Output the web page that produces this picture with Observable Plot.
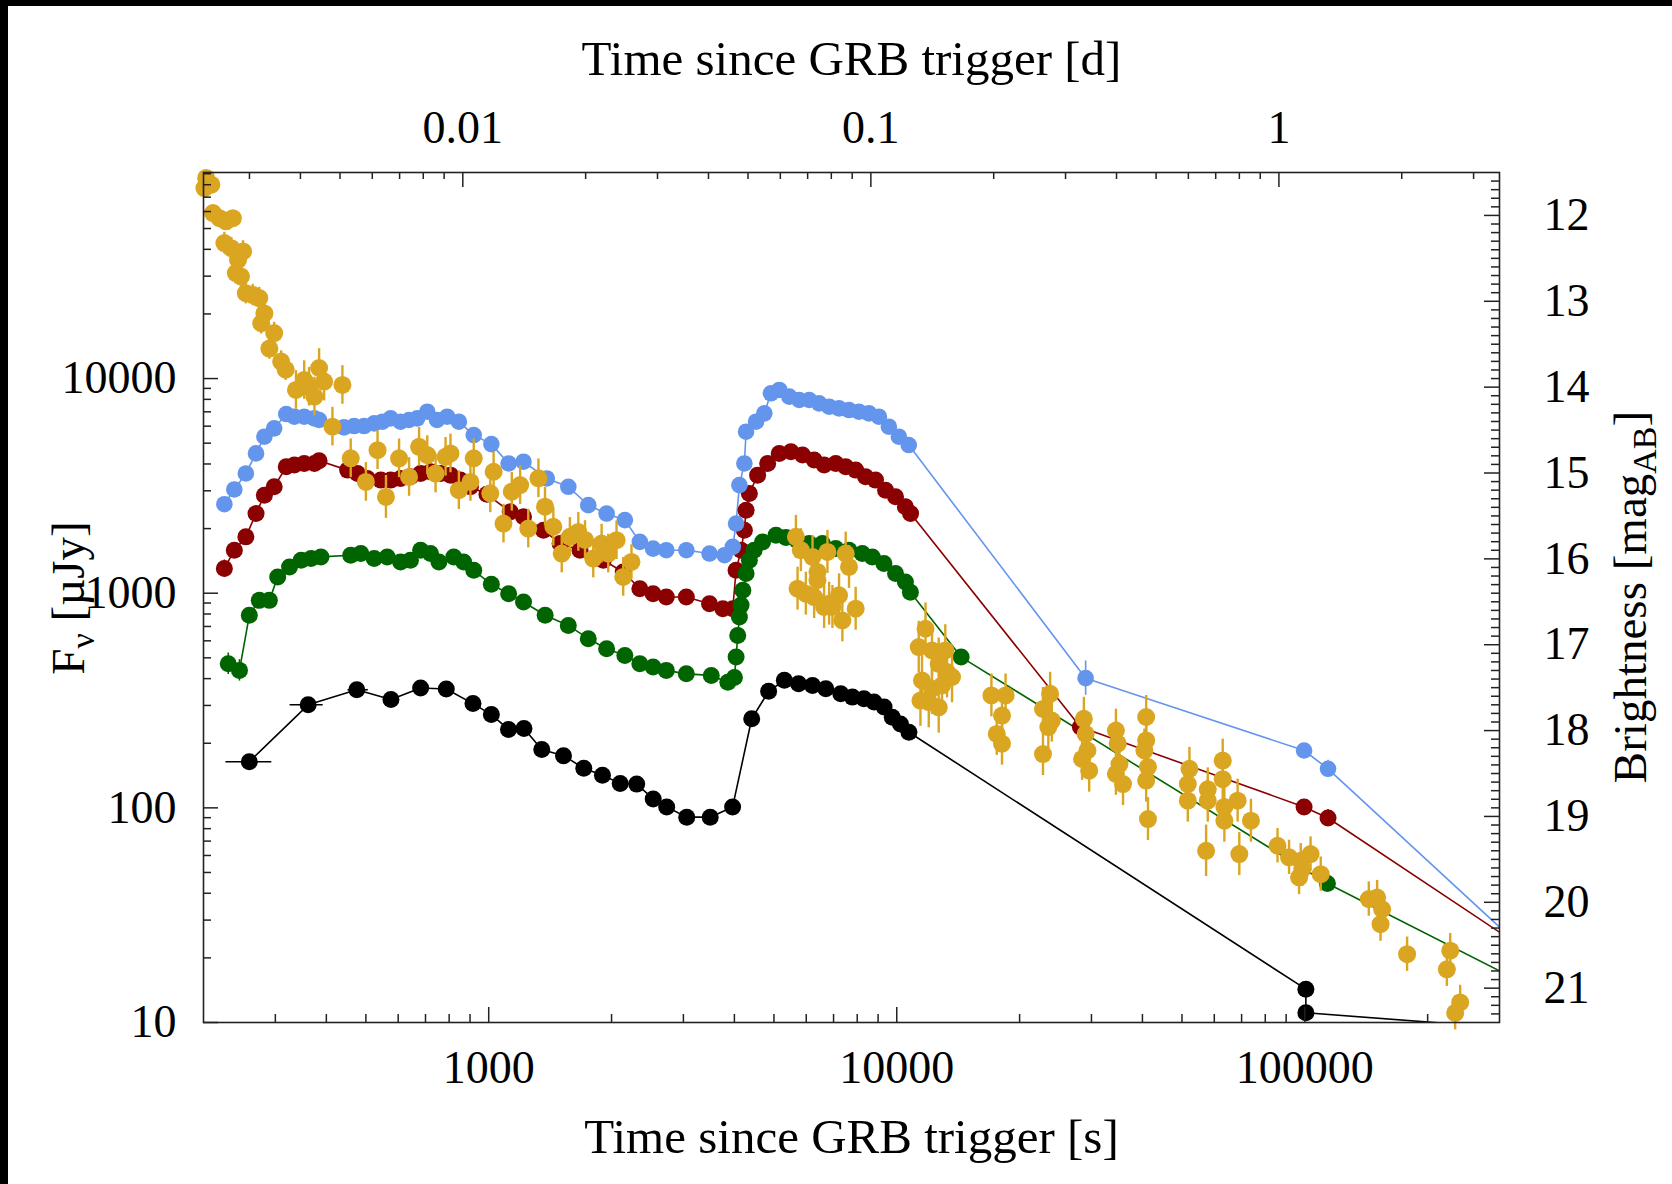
<!DOCTYPE html>
<html><head><meta charset="utf-8">
<script src="https://cdn.jsdelivr.net/npm/d3@7"></script>
<script src="https://cdn.jsdelivr.net/npm/@observablehq/plot@0.6"></script>
<style>
html,body{margin:0;padding:0;background:#fff;}
#wrap{position:relative;width:1672px;height:1184px;overflow:hidden;background:#fff;}
#chart{position:absolute;left:0;top:0;}
#bt{position:absolute;left:0;top:0;width:1672px;height:6px;background:#000;}
#bl{position:absolute;left:0;top:0;width:8px;height:1184px;background:#000;}
</style></head>
<body><div id="wrap"><div id="chart"></div><div id="bt"></div><div id="bl"></div></div>
<script>
// ---------- data (time since trigger [s], flux density [µJy]) ----------
const blackT = [259, 361, 475, 576, 681, 787, 915, 1015, 1118, 1220, 1349, 1525, 1710, 1900, 2100, 2305, 2530, 2730, 3057, 3490, 3960, 4411, 4853, 5303, 5745, 6217, 6700, 7290, 7785, 8310, 8795, 9310, 9750, 10210, 10710, 100600, 100600, 400000];
const blackF = [164, 302, 355, 320, 362, 358, 306, 272, 232, 234, 187, 175, 153, 142, 130, 129, 110, 101, 90.5, 90.5, 101, 260, 349, 393, 379, 372, 359, 340, 328, 322, 311, 295, 264, 246, 225, 14.3, 11.1, 9.1];
const blackXErrT = [259, 361, 475];
const blackXErrLo = [227, 326, 452];
const blackXErrHi = [294, 393, 507];

const blueT = [225, 238, 254, 269, 282, 298, 319, 334, 353, 374, 384, 442, 468, 495, 524, 549, 575, 608, 638, 668, 707, 747, 791, 845, 919, 1015, 1119, 1217, 1388, 1567, 1754, 1945, 2156, 2346, 2528, 2724, 3050, 3476, 3784, 3964, 4038, 4115, 4232, 4273, 4520, 4736, 4917, 5153, 5453, 5768, 6101, 6452, 6828, 7221, 7638, 8078, 8549, 9042, 9565, 10120, 10700, 29030, 99590, 114000, 400000];
const blueF = [2598, 3043, 3613, 4480, 5358, 5861, 6836, 6643, 6643, 6526, 6411, 5924, 6009, 6009, 6183, 6295, 6526, 6295, 6411, 6526, 7010, 6411, 6643, 6295, 5456, 4950, 4023, 4097, 3424, 3132, 2572, 2351, 2189, 1734, 1614, 1586, 1586, 1530, 1503, 1644, 2112, 3187, 4023, 5654, 6295, 6884, 8537, 8847, 8235, 7945, 7945, 7666, 7396, 7265, 7136, 7010, 6884, 6643, 5968, 5359, 4900, 402, 185, 152, 16.8];
const blueErrT = [29030, 114000];
const blueErrDex = [0.08, 0.04];

const redT = [225, 238, 254, 269, 282, 298, 319, 334, 353, 374, 384, 451, 477, 504, 544, 575, 608, 643, 681, 720, 762, 806, 852, 902, 990, 1129, 1217, 1362, 1496, 1674, 1909, 2136, 2346, 2528, 2724, 3050, 3476, 3748, 3964, 4038, 4154, 4232, 4273, 4353, 4561, 4827, 5152, 5504, 5875, 6274, 6637, 7087, 7497, 7930, 8386, 8871, 9387, 9931, 10500, 10810, 28180, 99590, 114000, 400000];
const redF = [1302, 1586, 1830, 2351, 2863, 3131, 3882, 3953, 4023, 4023, 4140, 3745, 3613, 3424, 3364, 3364, 3424, 3486, 3613, 3679, 3613, 3549, 3364, 3131, 2890, 2393, 2269, 1966, 1703, 1586, 1424, 1256, 1050, 995, 960, 960, 894, 847, 847, 1279, 1586, 1966, 2437, 2915, 3549, 4023, 4480, 4560, 4401, 4171, 3953, 4023, 3882, 3745, 3486, 3364, 3021, 2812, 2526, 2352, 238, 101, 89.7, 18.3];
const redErrT = [225, 114000];
const redErrDex = [0.04, 0.04];

const greenT = [230, 245, 259, 274, 290, 304, 325, 347, 367, 388, 459, 486, 524, 564, 608, 643, 681, 720, 755, 821, 868, 919, 1015, 1119, 1217, 1375, 1567, 1754, 1945, 2156, 2346, 2528, 2724, 3050, 3511, 3855, 4001, 4039, 4076, 4115, 4154, 4195, 4273, 4353, 4470, 4690, 5058, 5349, 5700, 6101, 6575, 7087, 7638, 8233, 8710, 9300, 9931, 10500, 10800, 14380, 113600, 400000];
const greenF = [469, 437, 789, 926, 926, 1190, 1326, 1424, 1450, 1476, 1503, 1530, 1450, 1476, 1398, 1424, 1586, 1530, 1398, 1476, 1398, 1279, 1100, 995, 910, 789, 708, 614, 551, 513, 469, 453, 437, 421, 414, 385, 405, 504, 636, 775, 880, 1031, 1234, 1424, 1586, 1734, 1863, 1820, 1760, 1703, 1703, 1614, 1586, 1530, 1476, 1374, 1234, 1128, 1010, 504, 44.4, 13.2];
const greenErrT = [230, 245];
const greenErrDex = [0.05, 0.05];

const goldT = [203, 209, 201, 211, 219, 227, 236, 225, 234, 250, 243, 240, 247, 254, 264, 274, 282, 277, 298, 290, 310, 318, 337, 353, 363, 374, 384, 395, 438, 414, 459, 500, 534, 560, 603, 638, 675, 707, 741, 784, 806, 845, 919, 902, 1028, 1009, 1087, 1139, 1194, 1250, 1324, 1374, 1440, 1510, 1581, 1658, 1722, 1804, 1891, 1963, 2057, 2136, 2238,
  5660, 5821, 6217, 6763, 7497, 7638, 6393, 5713, 5987, 6274, 6637, 6956, 7221, 7357, 7930, 6393, 6827,
  11760, 11320, 12200, 13150, 12670, 13280, 11530, 12200, 12910, 13660, 11980, 12670, 11430,
  17060, 18480, 18110, 17580, 18110, 22820, 23760, 23990, 23520, 22820, 28740, 29030, 29330, 28460, 29620, 34440, 34790, 35140, 34440, 35850, 40850, 40850, 40450, 41270, 40850, 41270,
  52150, 51670, 51670, 57830, 57830, 57290, 62920, 62920, 63510, 63510, 68450, 69100, 73780, 85730, 91500, 97720, 103300, 96820, 109400, 98630, 143500, 150400, 154700, 153300, 178100, 227200, 222900, 240300, 233600];
const goldF = [86000, 80000, 77200, 59000, 55900, 54000, 55900, 42800, 40500, 39100, 35700, 31000, 29900, 25000, 24500, 23700, 20100, 18100, 16300, 13800, 12000, 11000, 8850, 9840, 9160, 8240, 11200, 9680, 9340, 5970, 4250, 3300, 4640, 2810, 4250, 3480, 4810, 4400, 3610, 4320, 4480, 3020, 4250, 3300, 3680, 2920, 2110, 2970, 3190, 2000, 3430, 2530, 2040, 1530, 1830, 1930, 1770, 1450, 1703, 1530, 1766, 1191, 1399,
  1830, 1586, 1476, 1557, 1530, 1326, 1256, 1050, 995, 960, 863, 863, 978, 747, 847, 1149, 894,
  683, 561, 541, 541, 469, 429, 392, 359, 372, 407, 311, 294, 316,
  334, 334, 269, 221, 199, 289, 340, 255, 238, 178, 260, 221, 185, 169, 149, 229, 199, 160, 144, 129, 265, 206, 185, 155, 134, 88.7,
  152, 129, 108, 122, 108, 63.1, 166, 136, 101, 87.1, 108, 60.9, 87.1, 66.6, 58.8, 56.7, 60.9, 47.4, 49.1, 51.8, 37.6, 38.2, 33.7, 28.7, 20.8, 21.6, 17.7, 12.4, 11.1];
// half-length of the vertical error bars, in dex
const goldErrDex = [0.03, 0.03, 0.03, 0.03, 0.03, 0.03, 0.03, 0.05, 0.05, 0.05, 0.05, 0.05, 0.05, 0.05, 0.05, 0.05, 0.05, 0.05, 0.05, 0.05, 0.05, 0.05, 0.09, 0.09, 0.09, 0.09, 0.09, 0.09, 0.09, 0.09, 0.09, 0.09, 0.09, 0.1, 0.09, 0.09, 0.09, 0.09, 0.09, 0.09, 0.09, 0.09, 0.09, 0.09, 0.09, 0.09, 0.09, 0.09, 0.09, 0.09, 0.09, 0.09, 0.09, 0.09, 0.09, 0.09, 0.09, 0.09, 0.09, 0.09, 0.09, 0.09, 0.08,
  0.1, 0.1, 0.1, 0.1, 0.1, 0.1, 0.1, 0.1, 0.1, 0.1, 0.1, 0.1, 0.1, 0.1, 0.1, 0.1, 0.1,
  0.12, 0.12, 0.12, 0.12, 0.12, 0.12, 0.12, 0.12, 0.12, 0.12, 0.12, 0.12, 0.12,
  0.1, 0.1, 0.1, 0.1, 0.1, 0.1, 0.1, 0.1, 0.1, 0.1, 0.1, 0.1, 0.1, 0.1, 0.1, 0.1, 0.1, 0.1, 0.1, 0.1, 0.1, 0.1, 0.1, 0.1, 0.1, 0.1,
  0.1, 0.1, 0.1, 0.1, 0.1, 0.12, 0.1, 0.1, 0.1, 0.1, 0.1, 0.1, 0.1, 0.08, 0.08, 0.08, 0.08, 0.08, 0.08, 0.08, 0.08, 0.08, 0.08, 0.08, 0.08, 0.08, 0.08, 0.08, 0.08];

// ---------- axes ----------
const xMajor = [1000, 10000, 100000];
const yMajor = [10, 100, 1000, 10000];
const dayMajor = [0.01, 0.1, 1];
const magMajor = [12, 13, 14, 15, 16, 17, 18, 19, 20, 21];
const xTitle = "Time since GRB trigger [s]";
const topTitle = "Time since GRB trigger [d]";

const xDomain = [200, 300000];
const yDomain = [10, 91200];
const SEC_PER_DAY = 86400;
const magToF = m => Math.pow(10, (23.9 - m) / 2.5);

const colors = {black: "#000000", blue: "#6495ED", red: "#8B0000", green: "#006400", gold: "#DAA520"};

const W = 1672, H = 1184, mL = 203, mR = 173, mT = 172, mB = 162;
const innerW = W - mL - mR, innerH = H - mT - mB;

const rows = (T, F) => T.map((t, i) => ({t, f: F[i]}));
const inside = d => d.t >= xDomain[0] && d.t <= xDomain[1] && d.f >= yDomain[0] && d.f <= yDomain[1];
const black = rows(blackT, blackF), blue = rows(blueT, blueF), red = rows(redT, redF), green = rows(greenT, greenF);
const gold = goldT.map((t, i) => ({t, f: goldF[i], e: goldErrDex[i]}));
const errRows = (T, D, S) => T.map((t, i) => {const f = S[S.findIndex(d => d.t === t)].f; return {t, lo: f / 10 ** D[i], hi: f * 10 ** D[i]};});

const mult = [2, 3, 4, 5, 6, 7, 8, 9];
const xMinor = [100, 1000, 10000, 100000].flatMap(d => mult.map(m => m * d)).filter(v => v > xDomain[0] && v < xDomain[1]);
const topMinor = [0.001, 0.01, 0.1, 1].flatMap(d => mult.map(m => m * d * SEC_PER_DAY)).filter(v => v > xDomain[0] && v < xDomain[1]);
const yMinor = [10, 100, 1000, 10000].flatMap(d => mult.map(m => m * d)).filter(v => v > yDomain[0] && v < yDomain[1]);
const magMinor = d3.range(115, 215).filter(v => v % 10 !== 0).map(v => v / 10).map(magToF).filter(v => v > yDomain[0] && v < yDomain[1]);

const tickStroke = "#222";
const lineOpts = c => ({x: "t", y: "f", stroke: c, strokeWidth: 1.6, clip: true});
const dotOpts = (c, r) => ({x: "t", y: "f", fill: c, r, filter: inside});

const svg = Plot.plot({
  width: W, height: H,
  marginLeft: mL, marginRight: mR, marginTop: mT, marginBottom: mB,
  x: {type: "log", domain: xDomain, axis: null},
  y: {type: "log", domain: yDomain, axis: null},
  style: {fontFamily: "'Liberation Serif', 'DejaVu Serif', serif", fontSize: "46px", color: "#000", background: "transparent", overflow: "visible"},
  marks: [
    // lines
    Plot.line(black, lineOpts(colors.black)),
    Plot.line(red, lineOpts(colors.red)),
    Plot.line(green, lineOpts(colors.green)),
    Plot.line(blue, lineOpts(colors.blue)),
    // error bars of coloured series
    Plot.ruleY(blackXErrT.map((t, i) => ({t, f: black.find(d => d.t === t).f, lo: blackXErrLo[i], hi: blackXErrHi[i]})), {y: "f", x1: "lo", x2: "hi", stroke: colors.black, strokeWidth: 1.6}),
    Plot.ruleX(errRows(redErrT, redErrDex, red), {x: "t", y1: "lo", y2: "hi", stroke: colors.red, strokeWidth: 1.6}),
    Plot.ruleX(errRows(greenErrT, greenErrDex, green), {x: "t", y1: "lo", y2: "hi", stroke: colors.green, strokeWidth: 1.6}),
    Plot.ruleX(errRows(blueErrT, blueErrDex, blue), {x: "t", y1: "lo", y2: "hi", stroke: colors.blue, strokeWidth: 1.6}),
    // dots
    Plot.dot(black, dotOpts(colors.black, 8.5)),
    Plot.dot(red, dotOpts(colors.red, 8.5)),
    Plot.dot(green, dotOpts(colors.green, 8.5)),
    Plot.dot(blue, dotOpts(colors.blue, 8.3)),
    Plot.ruleX(gold, {x: "t", y1: d => d.f / 10 ** d.e, y2: d => d.f * 10 ** d.e, stroke: colors.gold, strokeWidth: 2.4, filter: inside}),
    Plot.dot(gold, dotOpts(colors.gold, 9)),
    // frame and inward ticks
    Plot.frame({stroke: tickStroke, strokeWidth: 1.6}),
    Plot.tickX(xMinor, {x: d => d, insetTop: innerH - 8, stroke: tickStroke, strokeWidth: 1.5}),
    Plot.tickX(xMajor, {x: d => d, insetTop: innerH - 15, stroke: tickStroke, strokeWidth: 1.5}),
    Plot.tickX(topMinor, {x: d => d, insetBottom: innerH - 7, stroke: tickStroke, strokeWidth: 1.5}),
    Plot.tickX(dayMajor, {x: d => d * SEC_PER_DAY, insetBottom: innerH - 15, stroke: tickStroke, strokeWidth: 1.5}),
    Plot.tickY(yMinor, {y: d => d, insetRight: innerW - 8, stroke: tickStroke, strokeWidth: 1.5}),
    Plot.tickY(yMajor, {y: d => d, insetRight: innerW - 15, stroke: tickStroke, strokeWidth: 1.5}),
    Plot.tickY(magMinor, {y: d => d, insetLeft: innerW - 8, stroke: tickStroke, strokeWidth: 1.5}),
    Plot.tickY(magMajor, {y: magToF, insetLeft: innerW - 15, stroke: tickStroke, strokeWidth: 1.5}),
    // tick labels
    Plot.text(xMajor, {x: d => d, text: d => String(d), frameAnchor: "bottom", dy: 46, lineAnchor: "middle", fill: "#000"}),
    Plot.text(dayMajor, {x: d => d * SEC_PER_DAY, text: d => String(d), frameAnchor: "top", dy: -44, lineAnchor: "middle", fill: "#000"}),
    Plot.text(yMajor, {y: d => d, text: d => String(d), frameAnchor: "left", dx: -27, textAnchor: "end", lineAnchor: "middle", fill: "#000"}),
    Plot.text(magMajor, {y: magToF, text: d => String(d), frameAnchor: "right", dx: 44, textAnchor: "start", lineAnchor: "middle", fill: "#000"}),
    // axis titles
    Plot.text([xTitle], {text: d => d, frameAnchor: "bottom", dy: 115, lineAnchor: "middle", fill: "#000", fontSize: 49}),
    Plot.text([topTitle], {text: d => d, frameAnchor: "top", dy: -113, lineAnchor: "middle", fill: "#000", fontSize: 49})
  ]
});
document.getElementById("chart").appendChild(svg);

// rotated titles with subscripts
const s = d3.select(svg);
function vTitle(x, y, parts) {
  const t = s.append("text").attr("transform", `translate(${x},${y}) rotate(-90)`)
    .attr("text-anchor", "middle").attr("dy", "0.32em").attr("fill", "#000")
    .style("font-size", "47px");
  for (const [txt, sub] of parts) {
    const ts = t.append("tspan").text(txt);
    if (sub === 1) ts.attr("dy", 10).style("font-size", "34px");
    if (sub === -1) ts.attr("dy", -10);
  }
}
vTitle(69, 598, [["F", 0], ["ν", 1], [" [µJy]", -1]]);
vTitle(1631, 597, [["Brightness [mag", 0], ["AB", 1], ["]", -1]]);
</script></body></html>
